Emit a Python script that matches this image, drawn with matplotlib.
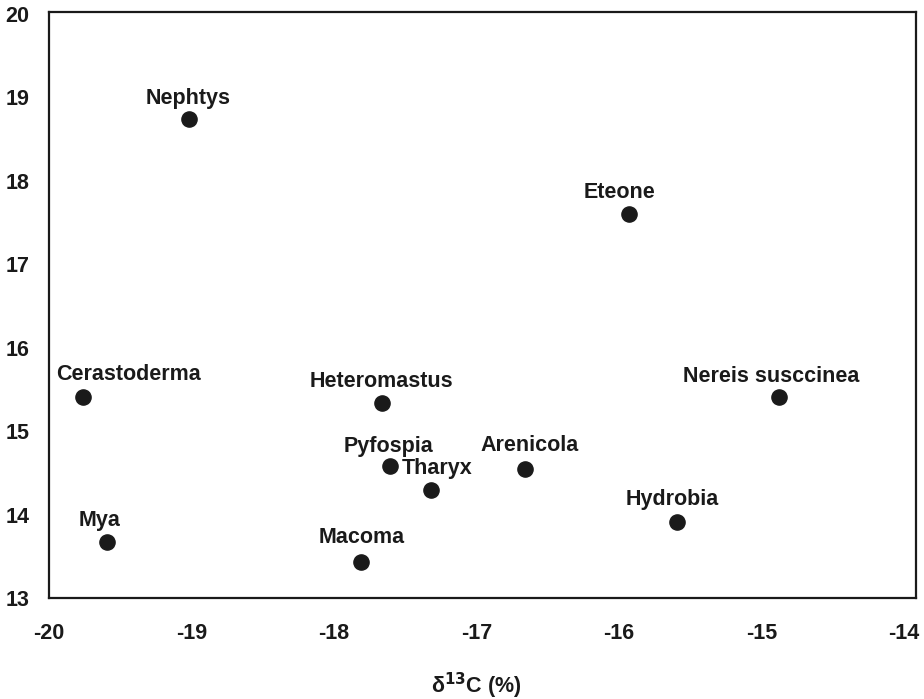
import matplotlib
matplotlib.use("Agg")
import matplotlib.pyplot as plt

plt.rcParams['font.family'] = ['Liberation Sans', 'DejaVu Sans']

species = ["Nephtys", "Eteone", "Cerastoderma", "Heteromastus", "Nereis susccinea",
           "Pyfospia", "Tharyx", "Arenicola", "Hydrobia", "Mya", "Macoma"]
d13C = [-19.02, -15.93, -19.76, -17.66, -14.88, -17.61, -17.32, -16.66, -15.59, -19.59, -17.81]
d15N = [18.74, 17.60, 15.41, 15.34, 15.41, 14.58, 14.29, 14.55, 13.91, 13.67, 13.43]
# label offsets in pixels (dx, dy) and horizontal alignment
label_offsets = {
    "Nephtys": (-1, 15, 'center'),
    "Eteone": (-9, 16, 'center'),
    "Cerastoderma": (45, 17, 'center'),
    "Heteromastus": (-1, 16, 'center'),
    "Nereis susccinea": (-7, 15, 'center'),
    "Pyfospia": (-1, 14, 'center'),
    "Tharyx": (-29, 16, 'left'),
    "Arenicola": (5, 18, 'center'),
    "Hydrobia": (-5, 17, 'center'),
    "Mya": (-8, 16, 'center'),
    "Macoma": (1, 19, 'center'),
}
xticks = [-20, -19, -18, -17, -16, -15, -14]
yticks = [13, 14, 15, 16, 17, 18, 19, 20]

fig = plt.figure(figsize=(9.24, 6.99), dpi=100)
ax = fig.add_axes([49/924, 1-598/699, (916-49)/924, (598-12)/699])
ax.scatter(d13C, d15N, s=120, color='#1a1a1a', zorder=3)
for name, x, y in zip(species, d13C, d15N):
    dx, dy, ha = label_offsets[name]
    ax.annotate(name, (x, y), xytext=(dx, dy), textcoords='offset pixels',
                ha=ha, va='baseline', fontsize=15.5, fontweight='bold', color='#1a1a1a')

ax.set_xlim(-20, -13.916)
ax.set_ylim(13, 20.02)
ax.set_xticks(xticks)
ax.set_xticklabels([str(t) for t in xticks])
ax.set_yticks(yticks)
ax.set_yticklabels([str(t) for t in yticks])
ax.tick_params(length=0, labelsize=15.5, colors='#1a1a1a', pad=14)
ax.tick_params(axis='x', pad=18)
for lab in ax.get_xticklabels() + ax.get_yticklabels():
    lab.set_fontweight('bold')
for sp in ax.spines.values():
    sp.set_linewidth(1.6)
    sp.set_color('#1a1a1a')
fig.text(476/924, 1-693/699, r'δ$^{\mathbf{13}}$C (%)', ha='center', va='baseline',
         fontsize=15.5, fontweight='bold', color='#1a1a1a')
fig.savefig("out.png", dpi=100)
